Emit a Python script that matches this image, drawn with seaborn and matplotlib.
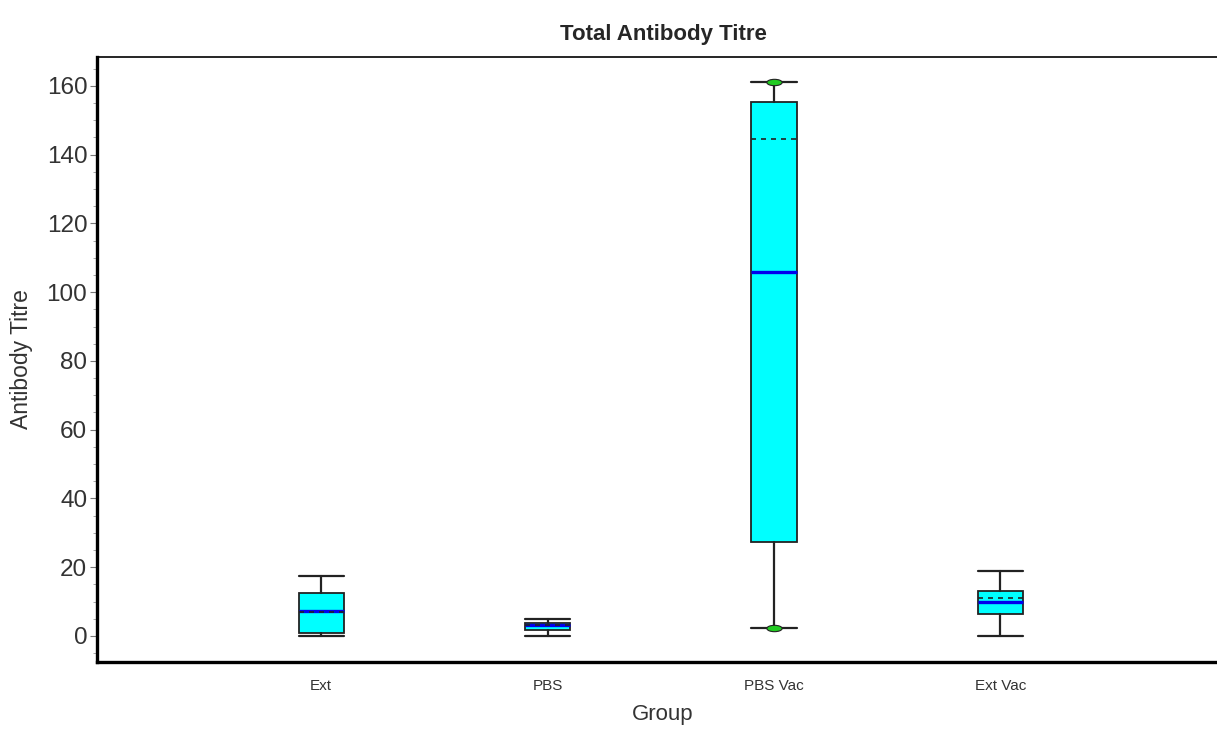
import matplotlib
matplotlib.use("Agg")
import matplotlib.pyplot as plt
import matplotlib.path as mpath
import matplotlib.transforms as mtrans
from matplotlib.ticker import MultipleLocator
import seaborn as sns

groups = ["Ext", "PBS", "PBS Vac", "Ext Vac"]
whisker_low = [0.0, 0.0, 2.3, 0.0]
q1 = [0.9, 1.8, 27.3, 6.4]
median = [7.3, 3.3, 105.9, 9.9]
q3 = [12.5, 3.7, 155.3, 13.1]
whisker_high = [17.5, 4.9, 161.0, 18.9]
mean = [6.9, 3.2, 144.6, 11.1]
extreme_points = [[], [], [2.3, 161.0], []]

sns.set_style("ticks")
plt.rcParams["font.family"] = ["Liberation Sans", "DejaVu Sans"]

stats = []
for i, g in enumerate(groups):
    stats.append({
        "label": g,
        "whislo": whisker_low[i],
        "q1": q1[i],
        "med": median[i],
        "q3": q3[i],
        "whishi": whisker_high[i],
        "mean": mean[i],
        "fliers": extreme_points[i],
    })

# flattened ellipse marker for the extreme points
ellipse = mpath.Path.unit_circle().transformed(mtrans.Affine2D().scale(2.4, 1.0))

fig = plt.figure(figsize=(12.17, 7.36), dpi=100)
ax = fig.add_axes([0.0797, 0.1005, 0.9303, 0.822])

ax.bxp(stats, positions=range(len(groups)), widths=0.2, capwidths=0.2,
       patch_artist=True, showmeans=True, meanline=True, showfliers=True,
       boxprops=dict(facecolor="#00FFFF", edgecolor="#222222", linewidth=1.3),
       whiskerprops=dict(color="#222222", linewidth=1.6),
       capprops=dict(color="#222222", linewidth=1.6),
       medianprops=dict(color="#0000EE", linewidth=2.4),
       meanprops=dict(color="#222222", linestyle=(0, (3, 3)), linewidth=1.2),
       flierprops=dict(marker=ellipse, markersize=11, markerfacecolor="#22CC22",
                       markeredgecolor="#222222", markeredgewidth=0.8))

ax.set_xlim(-0.99, 4.01)
ax.set_ylim(-7.6, 168.4)
ax.yaxis.set_major_locator(MultipleLocator(20))
ax.yaxis.set_minor_locator(MultipleLocator(5))
ax.tick_params(axis="y", which="major", length=5, color="#777777", labelsize=17.5, pad=2)
ax.tick_params(axis="y", which="minor", length=3, color="#999999")
ax.tick_params(axis="x", length=0, labelsize=11, pad=12)

for side in ["left", "bottom"]:
    ax.spines[side].set_linewidth(2.4)
    ax.spines[side].set_color("black")
ax.spines["top"].set_linewidth(1.2)
ax.spines["top"].set_color("black")
ax.spines["right"].set_visible(False)

ax.set_xlabel("Group", fontsize=16, labelpad=8, color="#333333")
ax.set_ylabel("Antibody Titre", fontsize=16.5, labelpad=10, color="#333333")
ax.set_title("Total Antibody Titre", fontsize=16, fontweight="bold", pad=12)
for t in ax.get_yticklabels() + ax.get_xticklabels():
    t.set_color("#333333")

fig.savefig("out.png", dpi=100)
